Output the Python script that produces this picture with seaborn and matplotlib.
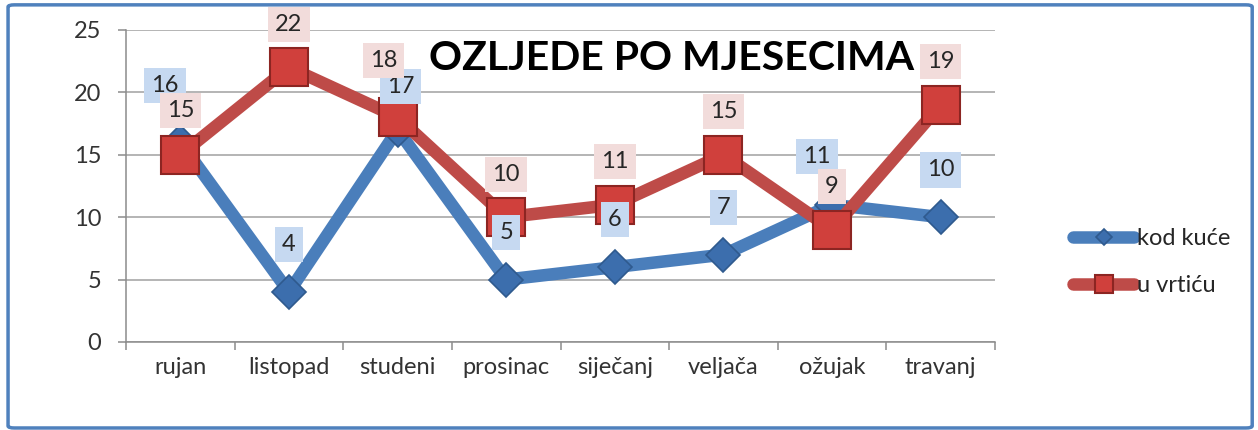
import numpy as np
import pandas as pd
import seaborn as sns
import matplotlib.pyplot as plt
from matplotlib.patches import FancyBboxPatch

# podaci: ozljede po mjesecima
mjeseci = ["rujan", "listopad", "studeni", "prosinac", "siječanj", "veljača", "ožujak", "travanj"]
kod_kuce = [16, 4, 17, 5, 6, 7, 11, 10]
u_vrticu = [15, 22, 18, 10, 11, 15, 9, 19]
naslov = "OZLJEDE PO MJESECIMA"

sns.set_style("white")
plt.rcParams["font.family"] = ["Lato", "DejaVu Sans"]

fig = plt.figure(figsize=(12.58, 4.30), dpi=100)
ax = fig.add_axes([0.1002, 0.2047, 0.6907, 0.7256])

plava = "#4A7EBB"
crvena = "#BE4B48"

sns.lineplot(x=mjeseci, y=kod_kuce, sort=False, ax=ax, color=plava, linewidth=9,
             marker="D", markersize=17, markerfacecolor="#3C6EAD", markeredgecolor="#2F5A8E",
             markeredgewidth=1.2, label="kod kuće", solid_joinstyle="round", zorder=3)
sns.lineplot(x=mjeseci, y=u_vrticu, sort=False, ax=ax, color=crvena, linewidth=9,
             marker="s", markersize=27, markerfacecolor="#D0403C", markeredgecolor="#8C2522",
             markeredgewidth=1.5, label="u vrtiću", solid_joinstyle="round", zorder=4)

# oznake podataka (pomaci u tockama, gdje se oznake preklapaju)
pomak_plava = [(-11, 41), (0, 34), (2, 31), (0, 34), (0, 34), (0, 34), (-11, 35), (0, 34)]
pomak_crvena = [(0, 32), (0, 31), (-10, 41), (0, 31), (0, 31), (0, 31), (0, 31), (0, 31)]
for i, v in enumerate(kod_kuce):
    ax.annotate(str(v), (i, v), xytext=pomak_plava[i], textcoords="offset points",
                ha="center", va="center", fontsize=17, color="#262626", zorder=5,
                bbox=dict(boxstyle="square,pad=0.3", fc="#C6D9F1", ec="none"))
for i, v in enumerate(u_vrticu):
    ax.annotate(str(v), (i, v), xytext=pomak_crvena[i], textcoords="offset points",
                ha="center", va="center", fontsize=17, color="#262626", zorder=6,
                bbox=dict(boxstyle="square,pad=0.3", fc="#F2DCDB", ec="none"))

ax.set_xlim(-0.5, len(mjeseci) - 0.5)
ax.set_ylim(0, 25)
ax.set_yticks(range(0, 26, 5))
ax.set_xticks(range(len(mjeseci)))
ax.set_xticklabels(mjeseci)
ax.set_xticks(np.arange(-0.5, len(mjeseci)), minor=True)
ax.set_xlabel("")
ax.set_ylabel("")

ax.grid(axis="y", color="#A0A0A0", linewidth=1.1)
ax.set_axisbelow(True)
for s in ["top", "right"]:
    ax.spines[s].set_visible(False)
for s in ["left", "bottom"]:
    ax.spines[s].set_color("#8C8C8C")
    ax.spines[s].set_linewidth(1.1)

ax.tick_params(axis="x", which="major", length=0, pad=11, labelsize=17, labelcolor="#333333")
ax.tick_params(axis="x", which="minor", length=6, width=1.1, color="#8C8C8C", direction="out", bottom=True)
ax.tick_params(axis="y", which="major", length=6, width=1.1, color="#8C8C8C", direction="out",
               left=True, pad=12, labelsize=17, labelcolor="#333333")

fig.text(0.534, 0.865, naslov, ha="center", va="center", fontsize=29.5, fontweight="bold", color="black")

ax.legend(loc="center left", bbox_to_anchor=(0.836, 0.39), bbox_transform=fig.transFigure,
          frameon=False, fontsize=17, handlelength=2.6, handletextpad=0.1, labelspacing=1.1,
          markerscale=0.5)

okvir = FancyBboxPatch((0.0064, 0.0047), 0.989, 0.984, boxstyle="round,pad=0,rounding_size=0.005",
                       transform=fig.transFigure, fill=False, edgecolor="#4F81BD", linewidth=2.5)
fig.patches.append(okvir)

fig.savefig("out.png", dpi=100, facecolor="white")
